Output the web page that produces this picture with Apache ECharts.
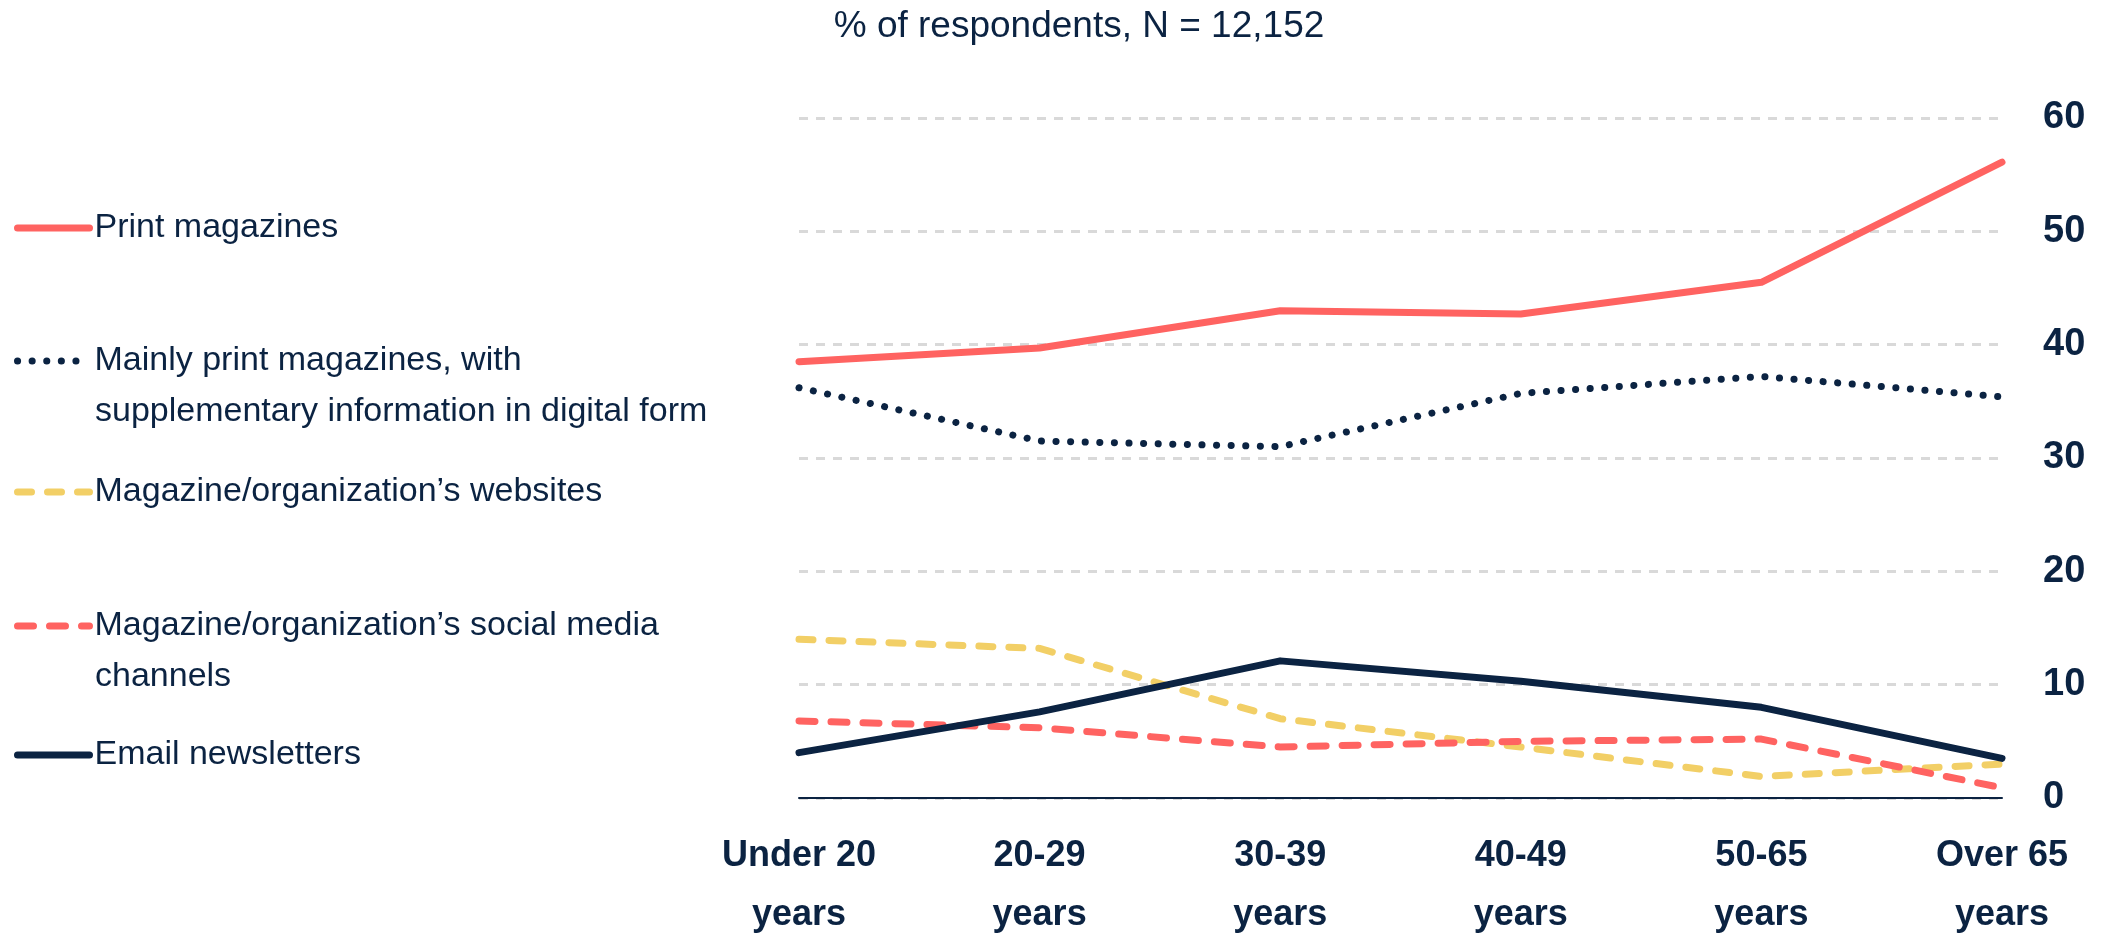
<!DOCTYPE html>
<html>
<head>
<meta charset="utf-8">
<script src="https://cdn.jsdelivr.net/npm/echarts@6/dist/echarts.min.js"></script>
<style>
  html, body { margin: 0; padding: 0; background: #fff; }
  #chart { width: 2102px; height: 933px; }
</style>
</head>
<body>
<div id="chart"></div>
<script>
// Age groups along the x axis
const ageGroups = ['Under 20\nyears', '20-29\nyears', '30-39\nyears', '40-49\nyears', '50-65\nyears', 'Over 65\nyears'];

// Share of respondents (%) preferring each format
const printMagazines   = [38.5, 39.7, 43.0, 42.7, 45.5, 56.1];
const mainlyPrint      = [36.2, 31.5, 31.0, 35.7, 37.2, 35.4];
const websites         = [14.0, 13.2, 7.0, 4.5, 1.9, 3.0];
const socialMedia      = [6.8, 6.2, 4.5, 5.0, 5.2, 0.9];
const emailNewsletters = [4.0, 7.6, 12.1, 10.3, 8.0, 3.5];

// Y axis ticks
const yTicks = [0, 10, 20, 30, 40, 50, 60];

const seriesNames = [
  'Print magazines',
  'Mainly print magazines, with supplementary information in digital form',
  'Magazine/organization\u2019s websites',
  'Magazine/organization\u2019s social media channels',
  'Email newsletters'
];

// Legend labels, broken over lines the way they are set beside the chart
const legendLines = [
  ['Print magazines'],
  ['Mainly print magazines, with', 'supplementary information in digital form'],
  ['Magazine/organization\u2019s websites'],
  ['Magazine/organization\u2019s social media', 'channels'],
  ['Email newsletters']
];

const NAVY = '#0b2342';
const CORAL = '#ff6361';
const YELLOW = '#f2cf66';
const LEGEND_FONT = "'Liberation Sans', Arial, sans-serif";
const LEGEND_SIZE = 34;
const LEGEND_LINE = 50;
const LEGEND_STEP = 51;

const chart = echarts.init(document.getElementById('chart'), null, { renderer: 'canvas' });

// One legend block per series so each can sit at its own height
const legendRows = [228, 361, 492, 626, 755];

function legendFor(i) {
  return {
    data: [seriesNames[i]],
    left: 14,
    top: legendRows[i] - LEGEND_LINE / 2,
    orient: 'vertical',
    padding: 0,
    itemWidth: 72,
    itemHeight: 2,
    selectedMode: false,
    itemStyle: { opacity: 0 },
    lineStyle: { width: 7 },
    textStyle: {
      color: NAVY,
      fontFamily: LEGEND_FONT,
      fontSize: LEGEND_SIZE,
      lineHeight: LEGEND_LINE
    },
    formatter: function () { return legendLines[i][0]; }
  };
}

// Continuation lines of the two-line legend labels
const legendExtra = [];
legendLines.forEach(function (lines, i) {
  if (lines.length > 1) {
    legendExtra.push({
      type: 'text',
      left: 95,
      top: legendRows[i] + LEGEND_STEP - LEGEND_LINE / 2,
      style: {
        text: lines[1],
        fill: NAVY,
        font: LEGEND_SIZE + 'px ' + LEGEND_FONT,
        lineHeight: LEGEND_LINE,
        verticalAlign: 'top'
      }
    });
  }
});

const axisFont = "'Liberation Sans', Arial, sans-serif";

const option = {
  backgroundColor: '#ffffff',
  animation: false,
  title: {
    text: '% of respondents, N = 12,152',
    left: 1079,
    top: 8,
    textAlign: 'center',
    padding: 0,
    textStyle: {
      color: NAVY,
      fontFamily: "'Liberation Sans', Arial, sans-serif",
      fontSize: 37,
      fontWeight: 'normal'
    }
  },
  legend: [0, 1, 2, 3, 4].map(legendFor),
  graphic: legendExtra,
  grid: {
    left: 799, right: 100, top: 118, bottom: 135,
    containLabel: false,
    outerBoundsMode: 'none'
  },
  xAxis: {
    type: 'category',
    data: ageGroups,
    boundaryGap: false,
    axisLine: { show: true, lineStyle: { color: NAVY, width: 2 } },
    axisTick: { show: false },
    splitLine: { show: false },
    axisLabel: {
      color: NAVY,
      fontFamily: axisFont,
      fontWeight: 'bold',
      fontSize: 36,
      lineHeight: 59,
      margin: 29,
      interval: 0,
      hideOverlap: false
    }
  },
  yAxis: {
    type: 'value',
    position: 'right',
    min: yTicks[0],
    max: yTicks[yTicks.length - 1],
    interval: 10,
    axisLine: { show: false },
    axisTick: { show: false },
    splitLine: { show: true, lineStyle: { color: '#d9d9d9', width: 3, type: [9, 8] } },
    axisLabel: {
      color: NAVY,
      fontFamily: axisFont,
      fontWeight: 'bold',
      fontSize: 38,
      margin: 41
    }
  },
  series: [
    {
      name: seriesNames[0], type: 'line', data: printMagazines, symbol: 'none', z: 5,
      lineStyle: { color: CORAL, width: 7, cap: 'round', join: 'round' },
      itemStyle: { color: CORAL }
    },
    {
      name: seriesNames[1], type: 'line', data: mainlyPrint, symbol: 'none', z: 4,
      lineStyle: { color: NAVY, width: 7, type: [0.1, 14.5], cap: 'round', join: 'round' },
      itemStyle: { color: NAVY }
    },
    {
      name: seriesNames[2], type: 'line', data: websites, symbol: 'none', z: 2,
      lineStyle: { color: YELLOW, width: 7, type: [14, 16], cap: 'round', join: 'round' },
      itemStyle: { color: YELLOW }
    },
    {
      name: seriesNames[3], type: 'line', data: socialMedia, symbol: 'none', z: 3,
      lineStyle: { color: CORAL, width: 7, type: [16, 16], cap: 'round', join: 'round' },
      itemStyle: { color: CORAL }
    },
    {
      name: seriesNames[4], type: 'line', data: emailNewsletters, symbol: 'none', z: 4,
      lineStyle: { color: NAVY, width: 7, cap: 'round', join: 'round' },
      itemStyle: { color: NAVY }
    }
  ]
};

chart.setOption(option);
</script>
</body>
</html>
